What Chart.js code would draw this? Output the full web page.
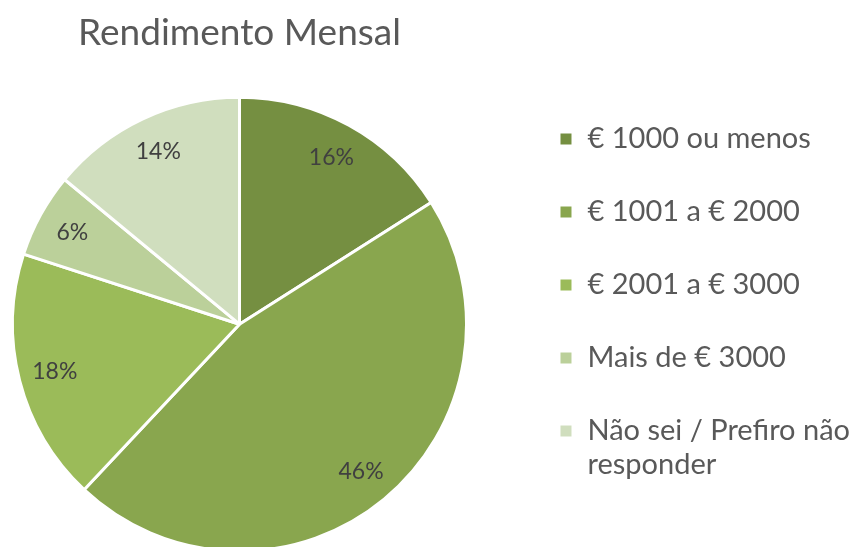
<!DOCTYPE html>
<html lang="pt">
<head>
<meta charset="utf-8">
<title>Rendimento Mensal</title>
<script src="https://cdn.jsdelivr.net/npm/chart.js@4/dist/chart.umd.min.js"></script>
<style>
    html, body { margin: 0; padding: 0; background: #fff; overflow: hidden; }
    #moldura { position: relative; width: 851px; height: 547px; overflow: hidden; }
    /* canvas deslocado para a esquerda para a pizza ficar centrada como no original */
    #caixa-grafico { position: absolute; left: -36px; top: 0; width: 896px; height: 547px; }
</style>
</head>
<body>
<div id="moldura">
    <div id="caixa-grafico"><canvas id="grafico-pizza"></canvas></div>
</div>
<script>
// DADOS DO GRÁFICO
const categorias = [
    '€ 1000 ou menos',
    '€ 1001 a € 2000',
    '€ 2001 a € 3000',
    'Mais de € 3000',
    ['Não sei / Prefiro não', 'responder']
];
const percentagens = [16, 46, 18, 6, 14];
const cores = ['#758f41', '#89a64e', '#9bbb59', '#bbd09a', '#d0debe'];

// RÓTULOS DE PERCENTAGEM DENTRO DAS FATIAS
const rotulosPercentagem = {
    id: 'rotulosPercentagem',
    afterDatasetsDraw(chart) {
        let ctx = chart.ctx;
        let meta = chart.getDatasetMeta(0);
        ctx.save();
        ctx.font = '23px Lato';
        ctx.fillStyle = '#404040';
        ctx.textAlign = 'center';
        ctx.textBaseline = 'middle';
        meta.data.forEach((arco, i) => {
            let p = arco.getProps(['x', 'y', 'startAngle', 'endAngle', 'outerRadius'], true);
            let meio = (p.startAngle + p.endAngle) / 2;
            let r = p.outerRadius * 0.84;
            ctx.fillText(percentagens[i] + '%', p.x + Math.cos(meio) * r, p.y + Math.sin(meio) * r);
        });
        ctx.restore();
    }
};

function gerarGraficoPizzaRendimento() {
    let canva_pizza = document.getElementById('grafico-pizza');
    let ctx_pizza = canva_pizza.getContext('2d');

    let data = {
        labels: categorias,
        datasets: [{
            data: percentagens,
            backgroundColor: cores,
            borderColor: '#ffffff',
            borderWidth: 3,
            radius: 227,
            clip: false
        }]
    };

    // RENDERIZAR GRÁFICO
    let grafico_pizza = new Chart(ctx_pizza, {
        type: 'pie',
        data: data,
        options: {
            responsive: true,
            maintainAspectRatio: false,
            animation: false,
            events: [],
            layout: { padding: 0 },
            plugins: {
                tooltip: { enabled: false },
                title: {
                    display: true,
                    text: 'Rendimento Mensal',
                    fullSize: false,
                    color: '#595959',
                    font: { family: 'Lato', size: 37, weight: 'normal' },
                    padding: { top: 11, bottom: 46 }
                },
                legend: {
                    position: 'right',
                    align: 'start',
                    title: {
                        display: true,
                        text: '',
                        font: { size: 12 },
                        padding: { top: 66, bottom: 0 }
                    },
                    labels: {
                        color: '#595959',
                        font: { family: 'Lato', size: 29, lineHeight: 1.17 },
                        boxWidth: 14,
                        boxHeight: 14,
                        padding: 44
                    }
                }
            }
        },
        plugins: [rotulosPercentagem]
    });
}

gerarGraficoPizzaRendimento();
</script>
</body>
</html>
